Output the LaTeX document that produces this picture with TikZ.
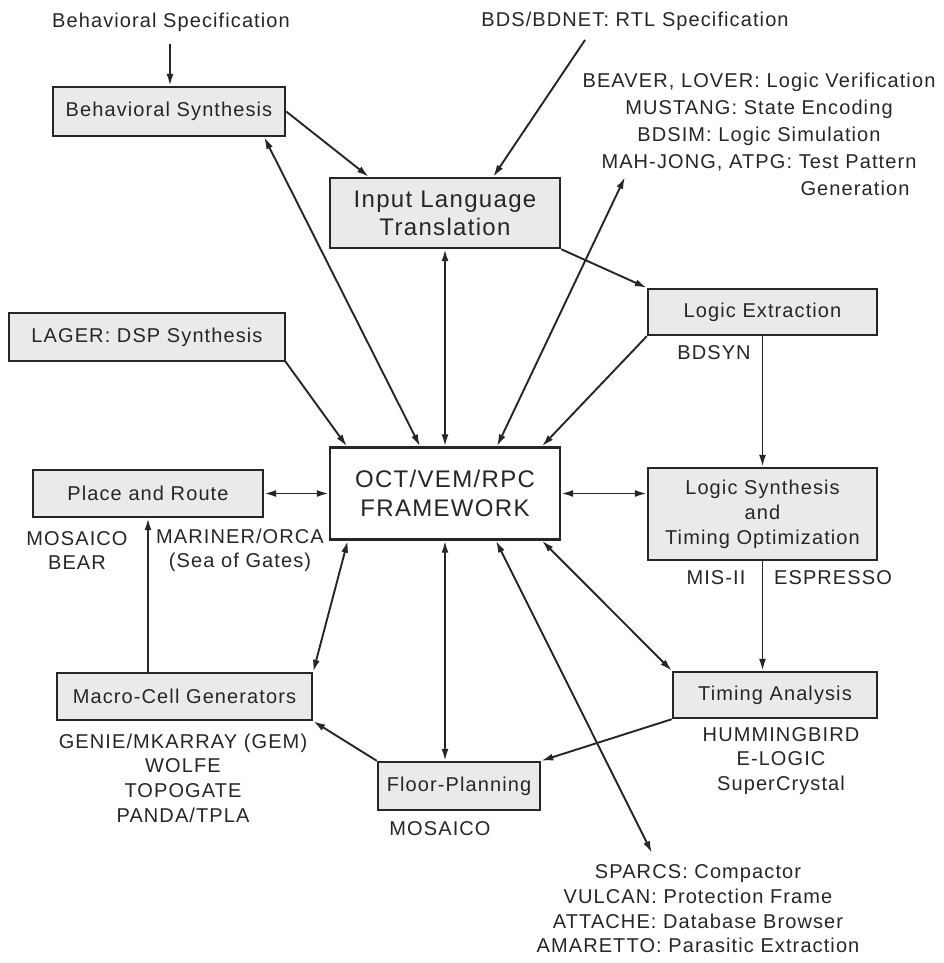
\documentclass[tikz,border=0pt]{standalone}
\usepackage{fontspec}
\setmainfont[LetterSpace=5.5]{Liberation Sans}
\usetikzlibrary{arrows.meta,calc}
\definecolor{ink}{HTML}{262626}
\definecolor{boxfill}{HTML}{EAEAEA}
\begin{document}
\begin{tikzpicture}[x=1pt,y=-1pt,
  box/.style={draw=ink,line width=2.4pt,fill=boxfill,inner sep=0pt,align=center,text=ink,font=\fontsize{20}{25}\selectfont},
  lbl/.style={inner sep=0pt,align=center,text=ink,font=\fontsize{20}{24.6}\selectfont},
  conn/.style={draw=ink,line width=1.9pt,-{Latex[length=12pt,width=7pt]}},
  dconn/.style={draw=ink,line width=1.9pt,{Latex[length=12pt,width=7pt]}-{Latex[length=12pt,width=7pt]}}]
\useasboundingbox (0,0) rectangle (944,963);
\fill[white] (0,0) rectangle (944,963);
% boxes
\node[box,minimum width=232pt,minimum height=49pt] (bs) at (169,111.5) {Behavioral Synthesis};
\node[box,minimum width=230pt,minimum height=70pt,font=\fontsize{24}{28}\selectfont] (ilt) at (445,213) {Input Language\\Translation};
\node[box,minimum width=276pt,minimum height=48pt] (lager) at (147,337) {LAGER: DSP Synthesis};
\node[box,minimum width=229pt,minimum height=46pt] (le) at (762.5,312) {Logic Extraction};
\node[box,fill=white,minimum width=230pt,minimum height=92pt,font=\fontsize{24}{29}\selectfont] (oct) at (445,493.5) {OCT/VEM/RPC\\FRAMEWORK};
\node[box,minimum width=230pt,minimum height=47pt] (pr) at (148,493.5) {Place and Route};
\node[box,minimum width=229pt,minimum height=92pt] (ls) at (762.5,514) {Logic Synthesis\\and\\Timing Optimization};
\node[box,minimum width=204pt,minimum height=46pt] (ta) at (775,695) {Timing Analysis};
\node[box,minimum width=255pt,minimum height=47pt] (mc) at (184.5,696.5) {Macro-Cell Generators};
\node[box,minimum width=162pt,minimum height=48pt] (fp) at (459,786) {Floor-Planning};
% labels
\node[lbl] (bspec) at (171,22) {Behavioral Specification};
\node[lbl] (bds) at (635,21) {BDS/BDNET: RTL Specification};
\node[lbl,font=\fontsize{20}{26.7}\selectfont] (ver) at (759,122) {BEAVER, LOVER: Logic Verification\\MUSTANG: State Encoding\\BDSIM: Logic Simulation\\MAH-JONG, ATPG: Test Pattern};
\node[lbl] (gen) at (855,188) {Generation};
\node[lbl] (bdsyn) at (714,353) {BDSYN};
\node[lbl] (mis) at (716,578) {MIS-II};
\node[lbl] (esp) at (833,578) {ESPRESSO};
\node[lbl] (mos1) at (77,550.5) {MOSAICO\\BEAR};
\node[lbl] (mar) at (240,550.5) {MARINER/ORCA\\(Sea of Gates)};
\node[lbl] (gem) at (183,778) {GENIE/MKARRAY (GEM)\\WOLFE\\TOPOGATE\\PANDA/TPLA};
\node[lbl] (mos2) at (440,829) {MOSAICO};
\node[lbl] (hum) at (781,761) {HUMMINGBIRD\\E-LOGIC\\SuperCrystal};
\node[lbl] (spa) at (698,909) {SPARCS: Compactor\\VULCAN: Protection Frame\\ATTACHE: Database Browser\\AMARETTO: Parasitic Extraction};
\coordinate (tv) at (625,177);
\coordinate (tsp) at (652,853);
\coordinate (bsp) at (170,44);
\coordinate (bdsp) at (585,40);
% connectors
\draw[conn] (bsp) -- (bs.north -| bsp);
\draw[conn] (bs.east) -- ([xshift=40pt]ilt.north west);
\draw[conn] (bdsp) -- ([xshift=-68pt]ilt.north east);
\draw[dconn] ([xshift=-22pt]bs.south east) -- ([xshift=-25pt]oct.north);
\draw[dconn] (ilt.south) -- (oct.north);
\draw[conn] ([xshift=-1pt,yshift=1pt]lager.south east) -- ([xshift=18pt]oct.north west);
\draw[dconn] ([xshift=52pt]oct.north) -- (tv);
\draw[conn] (ilt.south east) -- (le.north west);
\draw[conn] (le.south west) -- ([xshift=97pt]oct.north);
\draw[conn] (le.south) -- (le.south |- ls.north);
\draw[dconn] (pr.east) -- (oct.west);
\draw[dconn] (oct.east) -- (oct.east -| ls.west);
\draw[conn] (ls.south) -- (ls.south |- ta.north);
\draw[dconn] ([xshift=97pt]oct.south) -- (ta.north west);
\draw[dconn] ([xshift=51pt]oct.south) -- (tsp);
\draw[dconn] (oct.south) -- (oct.south |- fp.north);
\draw[dconn] ([xshift=19pt]oct.south west) -- (mc.north east);
\draw[conn] (ta.south west) -- (fp.north east);
\draw[conn] (fp.north west) -- (mc.south east);
\draw[conn] (pr.south |- mc.north) -- (pr.south);
\end{tikzpicture}
\end{document}
